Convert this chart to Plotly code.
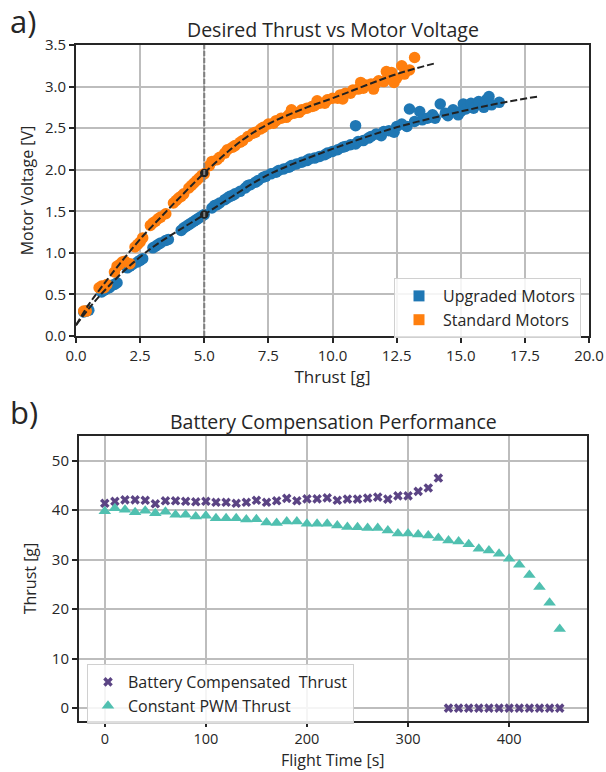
import plotly.graph_objects as go

# ---------------- Data: panel a) ----------------
up_thrust = [0.3, 0.4, 0.5,
             1.0, 1.1, 1.2, 1.3, 1.4, 1.5, 1.6,
             2.0, 2.1, 2.2, 2.4, 2.5, 2.6,
             3.0, 3.1, 3.2, 3.3, 3.5, 3.6,
             4.1, 4.2, 4.3, 4.4, 4.5, 4.6, 4.7, 4.8, 4.9, 5.0,
             5.3, 5.4, 5.5, 5.6, 5.8, 5.9, 6.0, 6.1, 6.2, 6.4,
             6.6, 6.7, 6.8, 7.0, 7.1, 7.3, 7.4, 7.6, 7.8, 7.9,
             8.1, 8.3, 8.4, 8.6, 8.8, 9.0, 9.1, 9.3, 9.5, 9.7,
             9.8, 10.0, 10.2, 10.4, 10.5, 10.7, 10.9, 10.9, 11.0, 11.2,
             11.4, 11.5, 11.7, 11.9, 12.0, 12.2, 12.4, 12.5, 12.7, 12.9,
             13.0, 13.2, 13.4, 13.5, 13.7, 13.9, 14.0, 14.2, 14.4, 14.5,
             14.7, 14.9, 15.0, 15.1, 15.2, 15.4, 15.5, 15.7, 15.9, 16.0,
             16.1, 16.2, 16.5]
up_voltage = [0.29, 0.30, 0.31,
              0.53, 0.55, 0.57, 0.58, 0.61, 0.62, 0.64,
              0.82, 0.84, 0.86, 0.89, 0.91, 0.93,
              1.06, 1.08, 1.10, 1.12, 1.15, 1.16,
              1.27, 1.30, 1.32, 1.34, 1.36, 1.38, 1.40, 1.42, 1.44, 1.46,
              1.54, 1.57, 1.58, 1.60, 1.64, 1.66, 1.68, 1.69, 1.71, 1.74,
              1.78, 1.81, 1.82, 1.85, 1.87, 1.91, 1.92, 1.95, 1.97, 1.99,
              2.01, 2.03, 2.05, 2.07, 2.09, 2.11, 2.13, 2.14, 2.16, 2.18,
              2.20, 2.22, 2.24, 2.27, 2.28, 2.30, 2.53, 2.31, 2.34, 2.35,
              2.38, 2.40, 2.43, 2.41, 2.46, 2.47, 2.45, 2.52, 2.55, 2.52,
              2.73, 2.58, 2.70, 2.60, 2.62, 2.66, 2.62, 2.79, 2.68, 2.65,
              2.72, 2.66, 2.70, 2.79, 2.73, 2.80, 2.74, 2.82, 2.75, 2.84,
              2.88, 2.78, 2.81]

std_thrust = [0.3, 0.4,
              0.9, 1.0, 1.1, 1.2,
              1.5, 1.6, 1.7, 1.8, 1.9, 2.1,
              2.3, 2.4, 2.5, 2.6,
              2.9, 3.0, 3.1, 3.2, 3.3, 3.5,
              3.8, 3.9, 4.0, 4.1, 4.2, 4.4,
              4.5, 4.6, 4.7, 4.8, 4.9, 5.0,
              5.2, 5.3, 5.5, 5.6, 5.8, 5.9, 6.1, 6.2, 6.4, 6.5,
              6.7, 6.9, 7.0, 7.2, 7.3, 7.5, 7.7, 7.8, 8.0, 8.2,
              8.3, 8.4, 8.5, 8.7, 8.8, 9.0, 9.2, 9.3, 9.4, 9.5,
              9.7, 9.8, 10.0, 10.2, 10.3, 10.4, 10.5, 10.7, 10.8, 11.0,
              11.1, 11.2, 11.3, 11.5, 11.6, 11.7, 11.8, 12.0, 12.1, 12.2,
              12.3, 12.4, 12.5, 12.7, 12.8, 13.0, 13.2]
std_voltage = [0.30, 0.30,
               0.58, 0.60, 0.58, 0.62,
               0.77, 0.84, 0.86, 0.89, 0.90, 0.87,
               1.07, 1.10, 1.13, 1.18,
               1.33, 1.36, 1.38, 1.41, 1.43, 1.47,
               1.60, 1.63, 1.66, 1.68, 1.71, 1.78,
               1.81, 1.84, 1.87, 1.90, 1.93, 1.95,
               2.05, 2.10, 2.12, 2.15, 2.20, 2.24, 2.27, 2.29, 2.33, 2.35,
               2.40, 2.44, 2.45, 2.49, 2.51, 2.55, 2.56, 2.59, 2.62, 2.63,
               2.66, 2.72, 2.68, 2.69, 2.72, 2.74, 2.76, 2.77, 2.83, 2.80,
               2.80, 2.84, 2.86, 2.86, 2.90, 2.85, 2.92, 2.92, 2.96, 2.97,
               3.05, 2.98, 3.02, 3.03, 2.97, 3.04, 3.07, 3.06, 3.18, 3.12,
               3.17, 3.05, 3.10, 3.25, 3.15, 3.20, 3.35]

up_fit_thrust = [0.0, 0.5, 1.0, 1.5, 2.0, 3.0, 4.0, 5.0, 6.0, 7.5, 10.0, 12.5, 15.0, 16.5, 18.0]
up_fit_voltage = [0.13, 0.33, 0.51, 0.67, 0.82, 1.07, 1.27, 1.46, 1.66, 1.94, 2.25, 2.51, 2.70, 2.80, 2.88]
std_fit_thrust = [0.0, 0.5, 1.0, 1.5, 2.0, 2.6, 3.0, 3.9, 5.0, 6.5, 7.5, 9.0, 10.0, 12.5, 14.0]
std_fit_voltage = [0.13, 0.38, 0.59, 0.79, 0.98, 1.20, 1.33, 1.62, 1.96, 2.36, 2.55, 2.75, 2.86, 3.15, 3.28]

ref_thrust = 5.0
ref_points_thrust = [5.0, 5.0]
ref_points_voltage = [1.46, 1.96]

# ---------------- Data: panel b) ----------------
comp_time = [0, 10, 20, 30, 40, 50, 60, 70, 80, 90, 100, 110, 120, 130, 140, 150,
             160, 170, 180, 190, 200, 210, 220, 230, 240, 250, 260, 270, 280, 290,
             300, 310, 320, 330,
             340, 350, 360, 370, 380, 390, 400, 410, 420, 430, 440, 450]
comp_thrust = [41.4, 41.8, 42.1, 42.1, 42.0, 41.3, 41.9, 41.9, 41.8, 41.7, 41.8, 41.6,
               41.6, 41.4, 41.6, 42.0, 41.6, 41.9, 42.4, 41.9, 42.3, 42.3, 42.5, 42.0,
               42.25, 42.25, 42.45, 42.65, 42.25, 42.9, 42.9, 43.8, 44.5, 46.5,
               0, 0, 0, 0, 0, 0, 0, 0, 0, 0, 0, 0]
pwm_time = [0, 10, 20, 30, 40, 50, 60, 70, 80, 90, 100, 110, 120, 130, 140, 150,
            160, 170, 180, 190, 200, 210, 220, 230, 240, 250, 260, 270, 280, 290,
            300, 310, 320, 330, 340, 350, 360, 370, 380, 390, 400, 410, 420, 430,
            440, 450]
pwm_thrust = [39.8, 40.4, 40.1, 39.6, 39.9, 39.4, 39.7, 39.1, 39.1, 38.75, 38.9, 38.4,
              38.4, 38.4, 38.1, 38.2, 37.5, 37.4, 37.7, 37.7, 37.25, 37.25, 37.25, 36.9,
              36.6, 36.55, 36.4, 36.4, 35.9, 35.3, 35.3, 35.1, 34.9, 34.4, 33.9, 33.7,
              33.1, 32.2, 31.85, 31.2, 30.2, 29.0, 26.9, 24.5, 21.3, 16.0]

x_ticks_a = [0, 2.5, 5, 7.5, 10, 12.5, 15, 17.5, 20]
y_ticks_a = [0, 0.5, 1.0, 1.5, 2.0, 2.5, 3.0, 3.5]
x_ticks_b = [0, 100, 200, 300, 400]
y_ticks_b = [0, 10, 20, 30, 40, 50]

BLUE = "#1f77b4"
ORANGE = "#ff7f0e"
PURPLE = "#5b4484"
TEAL = "#50c0b0"
TXT = "#262626"
FONT = "Open Sans"

W, H = 606, 772

fig = go.Figure()

# panel a
fig.add_trace(go.Scatter(x=up_thrust, y=up_voltage, mode="markers", xaxis="x", yaxis="y",
                         marker=dict(color=BLUE, size=11.5), showlegend=False))
fig.add_trace(go.Scatter(x=std_thrust, y=std_voltage, mode="markers", xaxis="x", yaxis="y",
                         marker=dict(color=ORANGE, size=11.5), showlegend=False))
fig.add_trace(go.Scatter(x=up_fit_thrust, y=up_fit_voltage, mode="lines", xaxis="x", yaxis="y",
                         line=dict(color="#222222", width=2, dash="7px,3px", shape="spline"),
                         showlegend=False))
fig.add_trace(go.Scatter(x=std_fit_thrust, y=std_fit_voltage, mode="lines", xaxis="x", yaxis="y",
                         line=dict(color="#222222", width=2, dash="7px,3px", shape="spline"),
                         showlegend=False))
fig.add_trace(go.Scatter(x=ref_points_thrust, y=ref_points_voltage, mode="markers", xaxis="x", yaxis="y",
                         marker=dict(color="#222222", size=8.5), showlegend=False))
# legend entries (square patches)
fig.add_trace(go.Scatter(x=[None], y=[None], mode="markers", xaxis="x", yaxis="y",
                         name="Upgraded Motors", legend="legend",
                         marker=dict(color=BLUE, size=11, symbol="square")))
fig.add_trace(go.Scatter(x=[None], y=[None], mode="markers", xaxis="x", yaxis="y",
                         name="Standard Motors", legend="legend",
                         marker=dict(color=ORANGE, size=11, symbol="square")))

# panel b
fig.add_trace(go.Scatter(x=comp_time, y=comp_thrust, mode="markers", xaxis="x2", yaxis="y2",
                         name="Battery Compensated  Thrust", legend="legend2",
                         marker=dict(color=PURPLE, size=8.5, symbol="x", line=dict(width=0))))
fig.add_trace(go.Scatter(x=pwm_time, y=pwm_thrust, mode="markers", xaxis="x2", yaxis="y2",
                         name="Constant PWM Thrust", legend="legend2",
                         marker=dict(color=TEAL, size=11, symbol="triangle-up", line=dict(width=0))))

axis_common = dict(showline=True, mirror=True, linecolor=TXT, linewidth=2,
                   ticks="outside", tickwidth=1.5, tickcolor=TXT,
                   showgrid=True, gridcolor="#bdbdbd", gridwidth=1.5, zeroline=False,
                   automargin=False)

XT = 17
YT = 16
TICKFONT = dict(family=FONT, size=15, color=TXT)

fig.update_layout(
    width=W, height=H,
    margin=dict(l=0, r=0, t=0, b=0, autoexpand=False),
    paper_bgcolor="white", plot_bgcolor="white",
    font=dict(family=FONT, color=TXT, size=15),
    xaxis=dict(domain=[76 / W, 589 / W], range=[0, 20], tickvals=x_ticks_a, tickformat=".1f",
               ticklen=5, tickfont=TICKFONT,
               title=dict(text="Thrust [g]", font=dict(size=XT), standoff=6), anchor="y", **axis_common),
    yaxis=dict(domain=[1 - 336 / H, 1 - 45 / H], range=[0, 3.5], tickvals=y_ticks_a, tickformat=".1f",
               ticklen=5, tickfont=TICKFONT,
               title=dict(text="Motor Voltage [V]", font=dict(size=YT), standoff=7), anchor="x", **axis_common),
    xaxis2=dict(domain=[79 / W, 587 / W], range=[-25.5, 477], tickvals=x_ticks_b,
                ticklen=4, tickfont=dict(family=FONT, size=14.5, color=TXT),
                anchor="y2", **axis_common),
    yaxis2=dict(domain=[1 - 721 / H, 1 - 436 / H], range=[-2.6, 55], tickvals=y_ticks_b,
                ticklen=5, tickfont=TICKFONT,
                title=dict(text="Thrust [g]", font=dict(size=YT), standoff=11), anchor="x2", **axis_common),
    legend=dict(x=394 / W, y=1 - 278 / H, xanchor="left", yanchor="top",
                bgcolor="rgba(255,255,255,0.85)", bordercolor="#d0d0d0", borderwidth=1,
                font=dict(family=FONT, size=16, color=TXT), itemwidth=38),
    legend2=dict(x=87 / W, y=1 - 664 / H, xanchor="left", yanchor="top",
                 bgcolor="rgba(255,255,255,0.85)", bordercolor="#d0d0d0", borderwidth=1,
                 font=dict(family=FONT, size=16, color=TXT)),
    shapes=[dict(type="line", xref="x", yref="y domain", x0=ref_thrust, x1=ref_thrust, y0=0, y1=1,
                 line=dict(color="#808080", width=2, dash="5px,2px"), layer="above")],
    annotations=[
        dict(text="Desired Thrust vs Motor Voltage", xref="paper", yref="paper",
             x=332.5 / W, y=1 - 29 / H, xanchor="center", yanchor="middle", showarrow=False,
             font=dict(size=19.5, family=FONT, color=TXT)),
        dict(text="Battery Compensation Performance", xref="paper", yref="paper",
             x=333 / W, y=1 - 421 / H, xanchor="center", yanchor="middle", showarrow=False,
             font=dict(size=19.5, family=FONT, color=TXT)),
        dict(text="Flight Time [s]", xref="paper", yref="paper",
             x=333 / W, y=0, xanchor="center", yanchor="bottom", showarrow=False, borderpad=0,
             font=dict(size=16, family=FONT, color=TXT)),
        dict(text="a)", xref="paper", yref="paper", x=8 / W, y=1 - 21 / H,
             xanchor="left", yanchor="middle", showarrow=False,
             font=dict(size=31, family=FONT, color=TXT)),
        dict(text="b)", xref="paper", yref="paper", x=8 / W, y=1 - 412 / H,
             xanchor="left", yanchor="middle", showarrow=False,
             font=dict(size=31, family=FONT, color=TXT)),
    ],
)

fig.write_html("out.html", config={"displayModeBar": False},
               post_script="document.body.style.margin='0';document.body.style.overflow='hidden';")
